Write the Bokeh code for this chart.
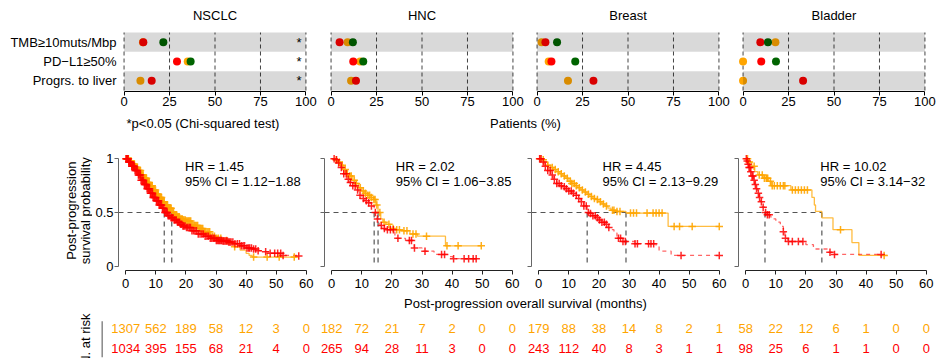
import numpy as np
from math import pi
from bokeh.plotting import figure
from bokeh.layouts import row, column
from bokeh.models import Range1d, FixedTicker
from bokeh.core.properties import value
from bokeh.embed import file_html
from bokeh.resources import INLINE

FONT = "Liberation Sans"
FS = "13px"
RED = "#FF0000"
ORANGE = "#FFA500"
GREEN = "#006400"

# ---------------- data: top dot panels (percent of patients) ----------------
cancers = ["NSCLC", "HNC", "Breast", "Bladder"]
features = ["TMB\u226510muts/Mbp", "PD\u2212L1\u226550%", "Progrs. to liver"]
pct_ticks = [0, 25, 50, 75, 100]
NA = float("nan")

nsclc_red_pct = [10.6, 29.1, 15.2]
nsclc_orange_pct = [10.4, 35.0, 9.0]
nsclc_green_pct = [21.6, 36.6, NA]
nsclc_sig = [1, 1, 1]

hnc_red_pct = [4.7, 12.2, 13.7]
hnc_orange_pct = [9.1, 16.0, 11.0]
hnc_green_pct = [12.0, 17.7, NA]
hnc_sig = [0, 0, 0]

breast_red_pct = [4.6, 7.9, 31.0]
breast_orange_pct = [2.5, 6.4, 17.0]
breast_green_pct = [11.0, 21.0, NA]
breast_sig = [0, 0, 0]

bladder_red_pct = [9.5, 10.0, 33.0]
bladder_orange_pct = [17.8, 0.0, 0.0]
bladder_green_pct = [13.7, 18.1, NA]
bladder_sig = [0, 0, 0]

# ---------------- data: Kaplan-Meier curves ----------------
km_ticks = [0, 10, 20, 30, 40, 50, 60]

nsclc_orange_t = [0, 1, 2, 3, 4, 5, 6, 7, 8, 9, 10, 11, 12, 13, 14, 15.3, 16, 17, 18, 19, 20, 22, 24, 26, 28, 30, 32, 34, 36, 38, 40, 41, 42, 57]
nsclc_orange_s = [1, .98, .95, .92, .89, .85, .82, .78, .75, .71, .67, .64, .60, .57, .54, .50, .48, .46, .44, .43, .42, .38, .35, .32, .28, .26, .24, .21, .18, .15, .12, .10, .085, .085]
nsclc_orange_c = [0.2, 0.4, 0.7, 0.9, 1.1, 1.3, 1.6, 1.8, 2.1, 2.4, 2.6, 2.9, 3.1, 3.3, 3.6, 3.8, 4.1, 4.4, 4.6, 4.9, 5.1, 5.3, 5.6, 5.8, 6.1, 6.4, 6.6, 6.9, 7.1, 7.3, 7.6, 7.8, 8.1, 8.4, 8.6, 8.8, 9.1, 9.3, 9.6, 9.9, 10.1, 10.4, 10.6, 10.8, 11.1, 11.4, 11.6, 11.9, 12.1, 12.3, 12.6, 12.8, 13.1, 13.4, 13.6, 13.9, 14.1, 14.3, 14.6, 14.8, 15.1, 15.6, 15.9, 16.2, 16.6, 16.9, 17.2, 17.5, 17.8, 18.1, 18.5, 18.8, 19.1, 19.4, 19.8, 20.1, 20.5, 20.9, 21.2, 21.6, 22.0, 22.4, 22.8, 23.1, 23.5, 23.9, 24.4, 24.8, 25.2, 25.6, 26.1, 26.5, 27.0, 27.4, 27.9, 28.3, 28.9, 29.5, 30.2, 30.8, 31.6, 33.5, 36.2, 42.5, 47.0, 51.0, 56.0]
nsclc_red_t = [0, 1, 2, 3, 4, 5, 6, 7, 8, 9, 10, 11, 12, 12.8, 14, 15, 16, 17, 18, 19, 20, 22, 24, 26, 28, 30, 32, 34, 36, 38, 40, 42, 44, 46, 48, 52, 57.5]
nsclc_red_s = [1, .97, .93, .89, .85, .80, .76, .72, .68, .64, .61, .57, .54, .50, .47, .45, .43, .41, .39, .375, .36, .33, .30, .28, .26, .24, .235, .225, .21, .19, .17, .16, .145, .135, .12, .10, .095]
nsclc_red_c = [0.1, 0.3, 0.6, 0.8, 1.0, 1.2, 1.5, 1.7, 2.0, 2.2, 2.5, 2.7, 2.9, 3.1, 3.4, 3.6, 3.9, 4.2, 4.4, 4.7, 4.9, 5.1, 5.4, 5.6, 5.9, 6.2, 6.4, 6.7, 6.9, 7.1, 7.4, 7.6, 7.9, 8.2, 8.4, 8.7, 8.9, 9.1, 9.4, 9.6, 9.9, 10.2, 10.4, 10.7, 10.9, 11.1, 11.4, 11.6, 11.9, 12.2, 12.4, 12.7, 13.0, 13.3, 13.6, 13.8, 14.1, 14.4, 14.7, 15.1, 15.4, 15.7, 16.1, 16.4, 16.8, 17.2, 17.5, 17.9, 18.2, 18.6, 19.0, 19.3, 19.7, 20.2, 20.6, 21.1, 21.5, 22.0, 22.5, 23.0, 23.5, 24.1, 24.7, 25.3, 25.8, 26.4, 27.0, 27.5, 28.1, 28.6, 29.1, 29.6, 30.1, 30.5, 30.9, 31.2, 31.6, 31.9, 32.3, 32.6, 33.0, 33.4, 33.8, 34.2, 34.6, 35.0, 35.6, 36.3, 37.1, 37.8, 38.4, 39.0, 39.5, 40.3, 40.8, 41.2, 41.8, 42.5, 43.2, 44.0, 46.5, 48.0, 49.5, 50.5, 51.5, 52.3, 57.5]

hnc_orange_t = [0, 1, 2, 3, 4, 5, 6, 7, 8, 9, 10, 11, 12, 13, 14, 14.7, 15.4, 16.3, 17, 18, 19.5, 21, 23, 26, 28.5, 37.8, 49.7]
hnc_orange_s = [1, .99, .97, .94, .90, .86, .84, .80, .77, .73, .70, .68, .66, .64, .62, .57, .50, .44, .41, .39, .35, .34, .33, .30, .28, .19, .19]
hnc_orange_c = [1.5, 2.5, 3.5, 4.5, 5.2, 6.0, 6.5, 7.5, 8.2, 9.5, 10.5, 11.2, 12.0, 12.6, 13.2, 14.0, 14.4, 15.0, 16.0, 17.4, 19.0, 20.4, 21.6, 22.5, 24.0, 25.0, 27.0, 28.0, 31.5, 38.3, 42.0, 49.7]
hnc_red_t = [0, 1, 2, 3, 4, 5, 6, 7, 8, 9, 10, 11, 12, 13, 14.1, 15, 16, 17, 18.5, 21, 24.5, 27.4, 30, 34, 38.5, 40.2, 48]
hnc_red_s = [1, .99, .96, .92, .86, .81, .78, .75, .71, .66, .63, .61, .59, .56, .50, .44, .38, .35, .34, .26, .24, .17, .14, .11, .09, .07, .07]
hnc_red_c = [0.8, 1.6, 2.3, 3.2, 4.0, 4.8, 5.5, 6.2, 7.0, 7.8, 8.6, 9.4, 10.5, 11.5, 12.3, 13.2, 14.5, 15.2, 16.5, 17.5, 18.5, 19.5, 20.5, 22.0, 25.8, 26.5, 27.5, 31.0, 36.5, 37.5, 40.5, 44.0, 45.5, 47.0, 48.0]

breast_orange_t = [0, 1, 2, 3, 4, 5, 6, 7, 8, 9, 10, 11, 12, 13, 14, 15, 16, 17, 18, 19, 20, 21, 22, 23, 24, 25.5, 29, 43, 60]
breast_orange_s = [1, .99, .97, .94, .92, .90, .88, .86, .84, .82, .79, .77, .75, .73, .71, .69, .67, .65, .63, .62, .60, .58, .56, .54, .52, .51, .495, .37, .37]
breast_orange_c = [0.5, 1.5, 3.0, 4.5, 5.5, 6.5, 7.5, 8.5, 9.5, 10.5, 11.0, 11.8, 12.5, 13.5, 14.5, 15.5, 16.5, 17.5, 18.5, 19.5, 20.5, 21.5, 22.5, 24.5, 25.0, 26.0, 27.0, 30.5, 31.5, 32.5, 36.0, 38.0, 39.0, 40.0, 41.0, 45.0, 46.8, 51.0, 60.0]
breast_red_t = [0, 1, 2, 3, 4, 5, 6, 7, 8, 9, 10, 11, 12, 13, 14, 15, 16.1, 17, 18, 19, 20, 21, 22, 23, 24, 25, 26, 28, 32, 39, 40, 44, 60]
breast_red_s = [1, .97, .93, .89, .85, .81, .77, .75, .74, .72, .70, .68, .66, .63, .60, .56, .50, .49, .47, .45, .43, .41, .39, .36, .34, .31, .26, .23, .21, .19, .14, .10, .10]
breast_red_c = [0.3, 0.8, 1.5, 2.2, 3.0, 3.8, 4.5, 5.2, 6.0, 6.8, 7.5, 8.5, 9.2, 10.0, 10.8, 11.5, 12.5, 13.3, 14.2, 15.0, 15.8, 16.5, 17.2, 18.0, 18.8, 19.5, 20.2, 21.0, 21.8, 22.5, 23.3, 26.5, 27.2, 28.0, 28.8, 32.0, 32.8, 36.5, 37.3, 38.2, 47.3, 60.0]

bladder_orange_t = [0, 1, 2, 3, 4, 6, 7.5, 8.5, 15, 22, 22.8, 23.2, 25.3, 29, 35.3, 37.6, 47]
bladder_orange_s = [1, .97, .93, .88, .85, .82, .79, .75, .71, .64, .57, .51, .45, .34, .22, .10, .10]
bladder_orange_c = [0.6, 1.2, 2.8, 4.5, 5.5, 6.2, 6.8, 7.0, 7.3, 8.2, 8.8, 9.5, 10.5, 11.5, 12.5, 13.0, 15.5, 16.5, 17.5, 18.5, 19.5, 20.5, 31.5, 46.0]
bladder_red_t = [0, 0.3, 0.6, 1, 1.5, 2, 2.5, 3, 3.5, 4, 4.5, 5, 5.5, 6.4, 7, 8, 9, 10, 11.5, 12.5, 13, 14, 20, 22.5, 27.5, 29.5, 45]
bladder_red_s = [1, .98, .95, .92, .88, .84, .80, .76, .72, .68, .64, .60, .55, .50, .48, .46, .44, .41, .37, .32, .26, .23, .20, .16, .13, .11, .11]
bladder_red_c = [0.2, 0.5, 0.8, 1.1, 1.4, 1.7, 2.1, 2.4, 2.8, 3.2, 3.6, 4.2, 4.6, 5.2, 5.8, 6.6, 7.2, 7.8, 12.5, 13.2, 14.2, 15.5, 17.5, 19.0, 28.0, 29.5, 45.0]

hr_text = ["HR = 1.45", "HR = 2.02", "HR = 4.45", "HR = 10.02"]
ci_text = ["95% CI = 1.12\u22121.88", "95% CI = 1.06\u22123.85", "95% CI = 2.13\u22129.29", "95% CI = 3.14\u221232"]

# ---------------- data: numbers at risk ----------------
nsclc_risk_orange = [1307, 562, 189, 58, 12, 3, 0]
nsclc_risk_red = [1034, 395, 155, 68, 21, 4, 0]
hnc_risk_orange = [182, 72, 21, 7, 2, 0, 0]
hnc_risk_red = [265, 94, 28, 11, 3, 0, 0]
breast_risk_orange = [179, 88, 38, 14, 8, 2, 1]
breast_risk_red = [243, 112, 40, 8, 3, 1, 1]
bladder_risk_orange = [58, 22, 12, 6, 1, 0, 0]
bladder_risk_red = [98, 25, 6, 1, 1, 0, 0]

top_data = [
    (nsclc_red_pct, nsclc_orange_pct, nsclc_green_pct, nsclc_sig),
    (hnc_red_pct, hnc_orange_pct, hnc_green_pct, hnc_sig),
    (breast_red_pct, breast_orange_pct, breast_green_pct, breast_sig),
    (bladder_red_pct, bladder_orange_pct, bladder_green_pct, bladder_sig),
]
km_data = [
    (nsclc_orange_t, nsclc_orange_s, nsclc_orange_c, nsclc_red_t, nsclc_red_s, nsclc_red_c),
    (hnc_orange_t, hnc_orange_s, hnc_orange_c, hnc_red_t, hnc_red_s, hnc_red_c),
    (breast_orange_t, breast_orange_s, breast_orange_c, breast_red_t, breast_red_s, breast_red_c),
    (bladder_orange_t, bladder_orange_s, bladder_orange_c, bladder_red_t, bladder_red_s, bladder_red_c),
]
risk_data = [
    (nsclc_risk_orange, nsclc_risk_red),
    (hnc_risk_orange, hnc_risk_red),
    (breast_risk_orange, breast_risk_red),
    (bladder_risk_orange, bladder_risk_red),
]
hr_x = [19.7, 21.3, 21.2, 24.8]

W_TOTAL = 951


def base(width, height, xr, yr, bl=0, br=0, bt=0, bb=0, xaxis=None, yaxis=None):
    p = figure(width=width, height=height, x_range=xr, y_range=yr,
               output_backend="svg", toolbar_location=None,
               x_axis_location=xaxis, y_axis_location=yaxis,
               min_border_left=bl, min_border_right=br, min_border_top=bt, min_border_bottom=bb)
    p.outline_line_color = None
    p.background_fill_color = "white"
    p.border_fill_color = "white"
    p.grid.grid_line_color = None
    return p


def style_axis(ax, color="#000000", standoff=2):
    ax.major_label_text_font = FONT
    ax.major_label_text_font_size = FS
    ax.major_label_text_color = "#000000"
    ax.minor_tick_line_color = None
    ax.major_tick_in = 0
    ax.major_tick_out = 4
    ax.axis_line_color = color
    ax.major_tick_line_color = color
    ax.axis_line_width = 1
    ax.major_label_standoff = standoff


def txt(p, x, y, t, align="center", angle=0.0, baseline="middle", size=FS, color="#000000"):
    p.text(x=x, y=y, text=t, text_align=align, text_baseline=baseline, angle=angle,
           text_font=value(FONT), text_font_size=value(size), text_color=color)


# ---------------- row A: dot panels (image y 0..115) ----------------
A_FL = [119, 326, 532, 738]
A_B = [0, 326, 532, 738, W_TOTAL]
A_FW = 191
PXU = 58 / 3.0
A_FH = 83
A_TOP = 8
ay0 = 0.5 - 1 / PXU
ay1 = ay0 + A_FH / PXU
rows_y = [3, 2, 1]

top_figs = []
for i, name in enumerate(cancers):
    red, orn, grn, sig = top_data[i]
    w = A_B[i + 1] - A_B[i]
    p = base(w, A_TOP + A_FH + 24, Range1d(-2.5, 102.5), Range1d(ay0, ay1 + A_TOP / PXU),
             bl=A_FL[i] - A_B[i], br=A_B[i + 1] - (A_FL[i] + A_FW), bb=24,
             xaxis="below", yaxis="left" if i == 0 else None)
    p.segment(x0=pct_ticks, y0=[0.5] * 5, x1=pct_ticks, y1=[3.5] * 5,
              line_color="#444444", line_dash="4 3", line_width=1)
    p.scatter(x=orn, y=rows_y, size=8, fill_color=ORANGE, line_color=None)
    p.scatter(x=red, y=rows_y, size=8, fill_color=RED, line_color=None)
    p.scatter(x=grn, y=rows_y, size=8, fill_color=GREEN, line_color=None)
    band_y = [rows_y[k] for k in range(len(features)) if k % 2 == 0]
    p.quad(left=0, right=100, bottom=[y - 0.5 for y in band_y], top=[y + 0.5 for y in band_y],
           fill_color="#000000", fill_alpha=0.15, line_color=None)
    star_y = [rows_y[k] for k in range(len(features)) if sig[k]]
    if star_y:
        txt(p, [96.2] * len(star_y), star_y, ["*"] * len(star_y))
    txt(p, [50], [ay1 - 7 / PXU], [name])
    ax = p.xaxis[0]
    style_axis(ax, standoff=1)
    ax.ticker = FixedTicker(ticks=pct_ticks)
    ax.bounds = (0, 100)
    if i == 0:
        ya = p.yaxis[0]
        style_axis(ya, standoff=3)
        ya.ticker = FixedTicker(ticks=rows_y)
        ya.major_label_overrides = {rows_y[k]: features[k] for k in range(len(features))}
        ya.axis_line_color = None
        ya.major_tick_line_color = None
        ya.major_tick_out = 0
    top_figs.append(p)
rowA = row(*top_figs)

# strip A (image y 115..135)
stripA = base(W_TOTAL, 20, Range1d(0, W_TOTAL), Range1d(0, 20))
txt(stripA, [126], [135 - 123], ["*p<0.05 (Chi-squared test)"], align="left")
txt(stripA, [525], [135 - 123], ["Patients (%)"])

# ---------------- row B: KM panels (image y 135..294) ----------------
KM_FL = [118, 324, 531, 738]
KM_B = [0, 316, 523, 730, 945]
KM_FW = 195
S = KM_FW / 64.8
KM_Z = [fl + 2.4 * S for fl in KM_FL]


def surv_at(ts, ss, c):
    ts = np.asarray(ts, float)
    ss = np.asarray(ss, float)
    idx = np.searchsorted(ts, np.asarray(c, float), side="right") - 1
    return ss[np.clip(idx, 0, len(ss) - 1)]


def median(ts, ss):
    for t, s in zip(ts, ss):
        if s <= 0.5:
            return t
    return None


YL_W = 92
ylab = base(YL_W, 159, Range1d(0, YL_W), Range1d(0, 159))
txt(ylab, [70.5], [294 - 212], ["Post-progression"], angle=pi / 2)
txt(ylab, [84.5], [294 - 212], ["survival probability"], angle=pi / 2)

km_figs = [ylab]
KM_B[0] = YL_W
for i in range(4):
    ot, os_, oc, rt, rs, rc = km_data[i]
    w = KM_B[i + 1] - KM_B[i]
    p = base(w, 159, Range1d(-2.4, 62.4), Range1d(-0.04, 1.04),
             bl=KM_FL[i] - KM_B[i], br=KM_B[i + 1] - (KM_FL[i] + KM_FW), bt=19, bb=24,
             xaxis="below", yaxis="left")
    meds = [median(ot, os_), median(rt, rs)]
    p.segment(x0=[-2.4], y0=[0.5], x1=[max(meds)], y1=[0.5], line_color="#555555",
              line_dash="5 4", line_width=1.2)
    p.segment(x0=meds, y0=[0.5, 0.5], x1=meds, y1=[0, 0], line_color="#555555",
              line_dash="5 4", line_width=1.2)
    p.step(x=ot, y=os_, mode="after", line_color=ORANGE, line_alpha=0.75, line_width=1.3)
    p.step(x=rt, y=rs, mode="after", line_color=RED, line_alpha=0.6, line_width=1.3, line_dash="4 4")
    p.scatter(x=oc, y=surv_at(ot, os_, oc), marker="cross", size=7.5, line_width=1.5,
              line_color=ORANGE, line_alpha=0.9)
    p.scatter(x=rc, y=surv_at(rt, rs, rc), marker="cross", size=7.5, line_width=1.5,
              line_color=RED, line_alpha=0.85)
    txt(p, [hr_x[i], hr_x[i]], [0.93, 0.785], [hr_text[i], ci_text[i]], align="left")
    xa = p.xaxis[0]
    style_axis(xa, color="#222222", standoff=4)
    xa.ticker = FixedTicker(ticks=km_ticks)
    xa.bounds = (0, 60)
    ya = p.yaxis[0]
    style_axis(ya, color="#666666", standoff=1)
    ya.ticker = FixedTicker(ticks=[0, 0.5, 1])
    ya.bounds = (0, 1)
    if i == 0:
        ya.major_label_overrides = {0: "0", 0.5: "0.5", 1: "1"}
    else:
        ya.major_label_overrides = {0: "", 0.5: "", 1: ""}
    km_figs.append(p)
rowB = row(*km_figs)

# strip B (image y 294..312)
stripB = base(W_TOTAL, 18, Range1d(0, W_TOTAL), Range1d(0, 18))
txt(stripB, [525], [312 - 302.5], ["Post-progression overall survival (months)"])

# ---------------- row C: numbers at risk (image y 312..358) ----------------
R_B = [106, 318, 525, 731, W_TOTAL]
rlab = base(R_B[0], 46, Range1d(0, R_B[0]), Range1d(0, 46))
txt(rlab, [85], [358 - 313], ["N. at risk"], align="right", angle=pi / 2)
rlab.segment(x0=[101.7], y0=[358 - 320.7], x1=[101.7], y1=[358 - 356.7],
             line_color="#888888", line_width=1.5)
risk_figs = [rlab]
for i in range(4):
    ro, rr = risk_data[i]
    x0 = (R_B[i] - KM_Z[i]) / S
    x1 = (R_B[i + 1] - KM_Z[i]) / S
    p = base(R_B[i + 1] - R_B[i], 46, Range1d(x0, x1), Range1d(0.5, 2.8))
    txt(p, km_ticks, [2] * len(km_ticks), [str(v) for v in ro], color=ORANGE)
    txt(p, km_ticks, [1] * len(km_ticks), [str(v) for v in rr], color=RED)
    risk_figs.append(p)
rowC = row(*risk_figs)

layout = column(rowA, stripA, rowB, stripB, rowC)
open("out.html", "w").write(file_html(layout, INLINE))
